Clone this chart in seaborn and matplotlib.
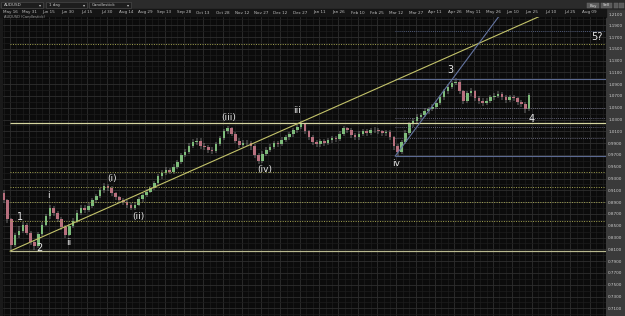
import numpy as np
import pandas as pd
import matplotlib
matplotlib.use("Agg")
import matplotlib.pyplot as plt
import matplotlib.dates as mdates
from matplotlib.patches import Rectangle
import seaborn as sns

# AUDUSD (one candle every 3 days)
start_date = '2010-05-11'
first_open = 0.905
closes = [
    0.893, 0.862, 0.818, 0.835, 0.842, 0.851, 0.838, 0.822, 0.815, 0.836,
    0.852, 0.866, 0.880, 0.871, 0.862, 0.848, 0.835, 0.850, 0.858, 0.872,
    0.881, 0.876, 0.884, 0.893, 0.900, 0.910, 0.918, 0.914, 0.905, 0.898,
    0.893, 0.890, 0.886, 0.881, 0.886, 0.895, 0.902, 0.908, 0.914, 0.922,
    0.934, 0.940, 0.944, 0.942, 0.950, 0.958, 0.970, 0.975, 0.986, 0.992,
    0.994, 0.985, 0.983, 0.978, 0.977, 0.988, 0.999, 1.010, 1.015, 1.006,
    0.994, 0.987, 0.990, 0.991, 0.985, 0.970, 0.960, 0.972, 0.979, 0.984,
    0.990, 0.988, 0.996, 1.000, 1.005, 1.012, 1.018, 1.023, 1.010, 1.000,
    0.992, 0.988, 0.993, 0.991, 0.995, 0.999, 0.997, 1.006, 1.015, 1.012,
    1.004, 1.000, 1.006, 1.010, 1.008, 1.012, 1.013, 1.010, 1.008, 1.009,
    1.000, 0.985, 0.975, 0.992, 1.008, 1.022, 1.028, 1.035, 1.038, 1.045,
    1.048, 1.052, 1.058, 1.068, 1.078, 1.086, 1.092, 1.094, 1.078, 1.062,
    1.075, 1.078, 1.066, 1.062, 1.058, 1.062, 1.068, 1.070, 1.074, 1.068,
    1.063, 1.068, 1.066, 1.060, 1.056, 1.048, 1.072,
]
highs = [
    0.910, 0.896, 0.864, 0.838, 0.849, 0.856, 0.854, 0.842, 0.826, 0.839,
    0.856, 0.870, 0.886, 0.884, 0.875, 0.865, 0.851, 0.853, 0.863, 0.876,
    0.886, 0.885, 0.888, 0.897, 0.904, 0.914, 0.923, 0.921, 0.917, 0.908,
    0.901, 0.897, 0.894, 0.889, 0.890, 0.898, 0.906, 0.912, 0.918, 0.926,
    0.938, 0.944, 0.949, 0.948, 0.954, 0.962, 0.974, 0.980, 0.990, 0.997,
    0.999, 0.998, 0.990, 0.987, 0.983, 0.992, 1.003, 1.014, 1.019, 1.018,
    1.009, 0.998, 0.995, 0.996, 0.994, 0.988, 0.973, 0.976, 0.983, 0.988,
    0.994, 0.994, 1.000, 1.004, 1.009, 1.016, 1.022, 1.027, 1.025, 1.013,
    1.004, 0.996, 0.997, 0.997, 0.999, 1.003, 1.003, 1.010, 1.019, 1.018,
    1.015, 1.008, 1.010, 1.014, 1.014, 1.016, 1.017, 1.016, 1.013, 1.013,
    1.012, 1.003, 0.988, 0.995, 1.012, 1.026, 1.032, 1.039, 1.042, 1.049,
    1.052, 1.056, 1.062, 1.072, 1.082, 1.090, 1.096, 1.101, 1.097, 1.081,
    1.079, 1.083, 1.081, 1.070, 1.066, 1.066, 1.072, 1.075, 1.078, 1.077,
    1.072, 1.072, 1.072, 1.069, 1.064, 1.059, 1.075,
]
lows = [
    0.888, 0.855, 0.807, 0.814, 0.830, 0.838, 0.834, 0.817, 0.809, 0.812,
    0.832, 0.849, 0.862, 0.866, 0.857, 0.843, 0.830, 0.832, 0.846, 0.855,
    0.869, 0.871, 0.873, 0.880, 0.889, 0.897, 0.906, 0.909, 0.901, 0.894,
    0.888, 0.885, 0.881, 0.876, 0.877, 0.883, 0.891, 0.898, 0.905, 0.910,
    0.919, 0.930, 0.936, 0.937, 0.938, 0.946, 0.955, 0.966, 0.972, 0.982,
    0.987, 0.980, 0.978, 0.973, 0.971, 0.974, 0.985, 0.995, 1.006, 1.002,
    0.990, 0.982, 0.983, 0.985, 0.979, 0.965, 0.955, 0.957, 0.968, 0.975,
    0.980, 0.983, 0.985, 0.992, 0.996, 1.001, 1.008, 1.014, 1.005, 0.995,
    0.987, 0.983, 0.984, 0.986, 0.987, 0.991, 0.992, 0.993, 1.002, 1.007,
    0.999, 0.995, 0.996, 1.002, 1.003, 1.004, 1.008, 1.005, 1.003, 1.003,
    0.995, 0.979, 0.968, 0.971, 0.988, 1.004, 1.018, 1.024, 1.030, 1.034,
    1.040, 1.044, 1.048, 1.054, 1.064, 1.074, 1.082, 1.088, 1.073, 1.057,
    1.058, 1.070, 1.061, 1.057, 1.053, 1.054, 1.058, 1.064, 1.066, 1.063,
    1.058, 1.059, 1.061, 1.055, 1.051, 1.042, 1.045,
]

date_ticks = pd.date_range('2010-05-16', '2011-08-24', freq='15D')
price_ticks = np.round(np.arange(0.71, 1.2001, 0.02), 2)

# drawn levels
level_start = '2010-05-16'
support_price = 0.807
resist_price = 1.024
yellow_dotted = [1.158, 0.941, 0.915, 0.890, 0.858]
fib_start = '2011-03-11'
blue_levels = [1.0988, 0.968]
fib_levels = [1.0497, 1.0334, 1.0180, 0.9989]
blue_dotted_level = 1.180

trend_yellow_dates = ['2010-05-16', '2011-08-05']
trend_yellow_prices = [0.807, 1.2387]
trend_blue_dates = ['2011-03-11', '2011-06-10']
trend_blue_prices = [0.968, 1.2357]

wave_text = ['1', '2', 'i', 'ii', '(i)', '(ii)', '(iii)', '(iv)', 'iii', 'iv', '3', '4', '5?']
wave_dates = ['2010-05-24', '2010-06-08', '2010-06-15', '2010-07-01', '2010-08-03',
              '2010-08-24', '2010-11-02', '2010-11-30', '2010-12-25', '2011-03-12',
              '2011-04-23', '2011-06-25', '2011-08-15']
wave_prices = [0.865, 0.812, 0.9005, 0.821, 0.931, 0.865, 1.034, 0.946, 1.0446, 0.956,
               1.114, 1.031, 1.170]

W, H = 625, 316
def fx(px):
    return px / W
def fy(py):
    return 1 - py / H

sns.set_style("dark", rc={"axes.facecolor": "#0b0b0b", "figure.facecolor": "#1a1a1a"})
plt.rcParams['font.family'] = ['DejaVu Sans']

fig = plt.figure(figsize=(6.25, 3.16), dpi=100)
ax = fig.add_axes([fx(3), 0, fx(606) - fx(3), 1 - 17 / H])

d0 = mdates.date2num(pd.Timestamp('2010-05-16'))
xlo, xhi = d0 - 5.4, d0 + 462.7
ylo, yhi = 0.6971, 1.2039

# grid
ax.set_xticks(mdates.date2num(date_ticks))
ax.set_xticks(mdates.date2num(pd.date_range('2010-05-06', '2011-09-01', freq='5D')), minor=True)
ax.set_yticks(price_ticks)
ax.set_yticks(np.round(np.arange(0.70, 1.21, 0.01), 2), minor=True)
ax.grid(which='major', color='#2e2e2e', lw=0.6)
ax.grid(which='minor', color='#1d1d1d', lw=0.5)
ax.set_axisbelow(True)
for s in ax.spines.values():
    s.set_visible(False)

ax.xaxis.tick_top()
ax.set_xticklabels([d.strftime('%b %d') for d in date_ticks], fontsize=3, color='#bdbdbd')
ax.tick_params(axis='x', which='both', length=0, pad=1.8)
ax.yaxis.tick_right()
ax.set_yticklabels([f'{p:.4f}' for p in price_ticks], fontsize=3, color='#cfcfcf')
ax.tick_params(axis='y', which='both', length=0, pad=1.6)

# candles
dates = pd.date_range(start_date, periods=len(closes), freq='3D')
xs = mdates.date2num(dates)
opens = np.array([first_open] + closes[:-1])
cl = np.array(closes)
up = cl >= opens
colors = np.where(up, '#7dbb7a', '#b8707e')
ax.vlines(xs, lows, highs, color='#cfcfcf', lw=0.35, zorder=2)
ax.bar(xs, cl - opens, bottom=opens, width=2.0, color=colors, linewidth=0, zorder=3)

# levels
x_lvl = mdates.date2num(pd.Timestamp(level_start))
x_fib = mdates.date2num(pd.Timestamp(fib_start))
ax.hlines(support_price, x_lvl, xhi, color='#b9b98f', lw=0.9, zorder=4)
ax.hlines(resist_price, x_lvl, xhi, color='#d6d6a0', lw=0.9, zorder=4)
ax.hlines(yellow_dotted, x_lvl, xhi, color='#a3a350', lw=0.7, linestyles=(0, (1, 1.5)), zorder=4)
ax.hlines(blue_levels, x_fib, xhi, color='#5c6a92', lw=0.8, zorder=4)
ax.hlines(fib_levels, x_fib, xhi, color='#7a7a94', lw=0.6, linestyles=(0, (1, 1.5)), zorder=4)
ax.hlines(blue_dotted_level, x_fib, xhi, color='#5c6a92', lw=0.6, linestyles=(0, (1, 1.5)), zorder=4)

# trend lines
sns.lineplot(x=mdates.date2num(pd.to_datetime(trend_yellow_dates)), y=trend_yellow_prices,
             ax=ax, color='#c3c36a', lw=0.8, zorder=5)
sns.lineplot(x=mdates.date2num(pd.to_datetime(trend_blue_dates)), y=trend_blue_prices,
             ax=ax, color='#6474a0', lw=0.8, zorder=5)
ax.set_xlim(xlo, xhi)
ax.set_ylim(ylo, yhi)

for t, d, p in zip(wave_text, wave_dates, wave_prices):
    big = t[0].isdigit()
    ax.text(mdates.date2num(pd.Timestamp(d)), p, t, color='#e8e8e8',
            fontsize=7 if big else 6.5, ha='center', va='center', zorder=6)

# header and side panel
fig.patches.append(Rectangle((fx(606), 0), fx(19), 1 - 9.5 / H, transform=fig.transFigure,
                             color='#3a3a3a', zorder=-1))
fig.patches.append(Rectangle((0, fy(9)), 1, 9 / H, transform=fig.transFigure,
                             color='#2b2b2b', zorder=-1))
fig.patches.append(Rectangle((0, fy(17)), fx(606), 8 / H, transform=fig.transFigure,
                             color='#151515', zorder=-1))
fig.text(fx(615.5), fy(14.5), '1.2100', fontsize=3, color='#cfcfcf', ha='center', va='center')
for x0, x1, label in [(1, 43, 'AUDUSD'), (46, 87, '1 day'), (89, 131, 'Candlestick')]:
    fig.patches.append(Rectangle((fx(x0), fy(8)), fx(x1 - x0), 6 / H, transform=fig.transFigure,
                                 facecolor='#1d1d1d', edgecolor='#505050', lw=0.4))
    fig.text(fx(x0 + 3), fy(5), label, fontsize=3, color='#c8c8c8', va='center')
    fig.text(fx(x1 - 3), fy(5), '▾', fontsize=3, color='#c8c8c8', va='center', ha='center')
for x0, x1, label in [(587, 599, 'Buy'), (601, 612, 'Sell'), (614, 618, ''), (619, 624, '')]:
    fig.patches.append(Rectangle((fx(x0), fy(8)), fx(x1 - x0), 5 / H, transform=fig.transFigure,
                                 facecolor='#5a5a5a', edgecolor='#6a6a6a', lw=0.3))
    fig.text(fx((x0 + x1) / 2), fy(5.5), label, fontsize=2.8, color='#e0e0e0',
             va='center', ha='center')
fig.text(fx(4), fy(16.5), 'AUDUSD (Candlestick)', fontsize=2.6, color='#a0a0a0', va='center')

fig.savefig('out.png', dpi=100, facecolor=fig.get_facecolor())
